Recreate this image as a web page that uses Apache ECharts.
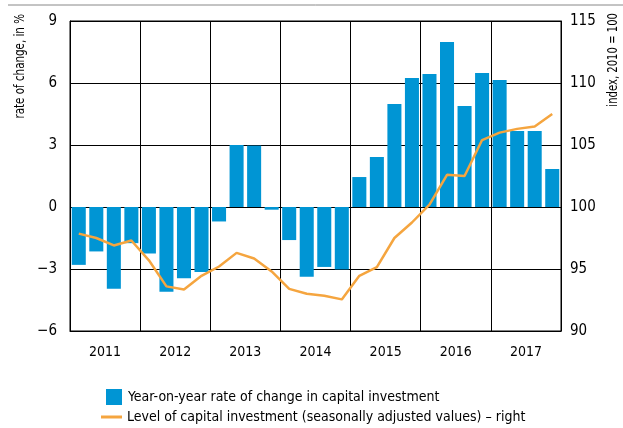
<!DOCTYPE html>
<html>
<head>
<meta charset="utf-8">
<script src="https://cdn.jsdelivr.net/npm/echarts@6/dist/echarts.min.js"></script>
<style>
  html, body { margin: 0; padding: 0; background: #fff; }
  #main { width: 623px; height: 428px; }
</style>
</head>
<body>
<div id="main"></div>
<script>
var FONT = "'Liberation Sans Narrow', 'Arial Narrow', 'DejaVu Sans Condensed', sans-serif";

// quarters 2011Q1 .. 2017Q4
var years = ['2011', '2012', '2013', '2014', '2015', '2016', '2017'];
var quarters = [];
years.forEach(function (y) {
    for (var q = 1; q <= 4; q++) quarters.push(y + 'Q' + q);
});

// year-on-year rate of change, %
var rateValues = [
    -2.8, -2.15, -3.95, -1.75,
    -2.25, -4.1, -3.45, -3.15,
    -0.7, 3.0, 2.97, -0.13,
    -1.6, -3.37, -2.9, -3.02,
    1.45, 2.42, 4.98, 6.24,
    6.44, 7.98, 4.89, 6.48,
    6.15, 3.68, 3.68, 1.84
];

// level, index 2010 = 100 (right axis)
var levelValues = [
    97.85, 97.5, 96.9, 97.3,
    95.7, 93.6, 93.35, 94.45,
    95.2, 96.3, 95.85, 94.8,
    93.4, 93.0, 92.85, 92.55,
    94.45, 95.15, 97.5, 98.75,
    100.2, 102.6, 102.5, 105.4,
    106.0, 106.3, 106.5, 107.5
];

var leftTicks = { min: -6, max: 9, interval: 3 };
var rightTicks = { min: 90, max: 115, interval: 5 };

var nameBar = 'Year-on-year rate of change in capital investment';
var nameLine = 'Level of capital investment (seasonally adjusted values) \u2013 right';

var myChart = echarts.init(document.getElementById('main'));

var option = {
    animation: false,
    textStyle: { fontFamily: FONT },
    grid: {
        left: 70, right: 62, top: 21, bottom: 97,
        show: true, borderColor: '#000', borderWidth: 1, backgroundColor: 'transparent'
    },
    legend: [{
        data: [nameBar],
        left: 101, top: 384,
        itemWidth: 16, itemHeight: 16,
        icon: 'rect',
        itemGap: 6,
        textStyle: { fontFamily: FONT, fontSize: 14, color: '#000', padding: [0, 0, 0, 1] }
    }, {
        data: [nameLine],
        left: 96, top: 405,
        itemWidth: 21, itemHeight: 3,
        icon: 'rect',
        textStyle: { fontFamily: FONT, fontSize: 14, color: '#000' }
    }],
    xAxis: [{
        type: 'category',
        data: quarters,
        show: false,
        boundaryGap: true
    }, {
        type: 'category',
        data: years,
        position: 'bottom',
        boundaryGap: true,
        axisLine: { show: true, lineStyle: { color: '#000' } },
        axisTick: { show: false },
        axisLabel: { fontFamily: FONT, fontSize: 14, color: '#000', margin: 14 },
        splitLine: { show: true, lineStyle: { color: '#000', width: 1 } }
    }],
    yAxis: [{
        type: 'value',
        min: leftTicks.min, max: leftTicks.max, interval: leftTicks.interval,
        axisLine: { show: true, lineStyle: { color: '#000' } },
        axisTick: { show: false },
        axisLabel: {
            fontFamily: FONT, fontSize: 15, color: '#000', margin: 13,
            formatter: function (v) { return v < 0 ? '\u2212' + Math.abs(v) : String(v); }
        },
        splitLine: { show: true, lineStyle: { color: '#000', width: 1 } }
    }, {
        type: 'value',
        min: rightTicks.min, max: rightTicks.max, interval: rightTicks.interval,
        axisLine: { show: true, lineStyle: { color: '#000' } },
        axisTick: { show: false },
        axisLabel: { fontFamily: FONT, fontSize: 15, color: '#000', margin: 9 },
        splitLine: { show: false }
    }],
    series: [{
        name: nameBar,
        type: 'bar',
        xAxisIndex: 0,
        yAxisIndex: 0,
        data: rateValues,
        barCategoryGap: '20%',
        itemStyle: { color: '#0095d4' }
    }, {
        name: nameLine,
        type: 'line',
        xAxisIndex: 0,
        yAxisIndex: 1,
        data: levelValues,
        symbol: 'none',
        lineStyle: { color: '#f5a53f', width: 2.5 },
        itemStyle: { color: '#f5a53f' }
    }],
    graphic: [{
        type: 'line',
        shape: { x1: 8, y1: 5, x2: 623, y2: 5 },
        style: { stroke: '#888', lineWidth: 1 }
    }, {
        type: 'text',
        x: 20, y: 14,
        rotation: Math.PI / 2,
        scaleX: 0.82,
        style: {
            text: 'rate of change, in %',
            font: '14px ' + FONT,
            fill: '#000',
            align: 'right',
            verticalAlign: 'middle'
        }
    }, {
        type: 'text',
        x: 613, y: 13,
        rotation: Math.PI / 2,
        scaleX: 0.8,
        style: {
            text: 'index, 2010 = 100',
            font: '14px ' + FONT,
            fill: '#000',
            align: 'right',
            verticalAlign: 'middle'
        }
    }]
};

myChart.setOption(option);
</script>
</body>
</html>
